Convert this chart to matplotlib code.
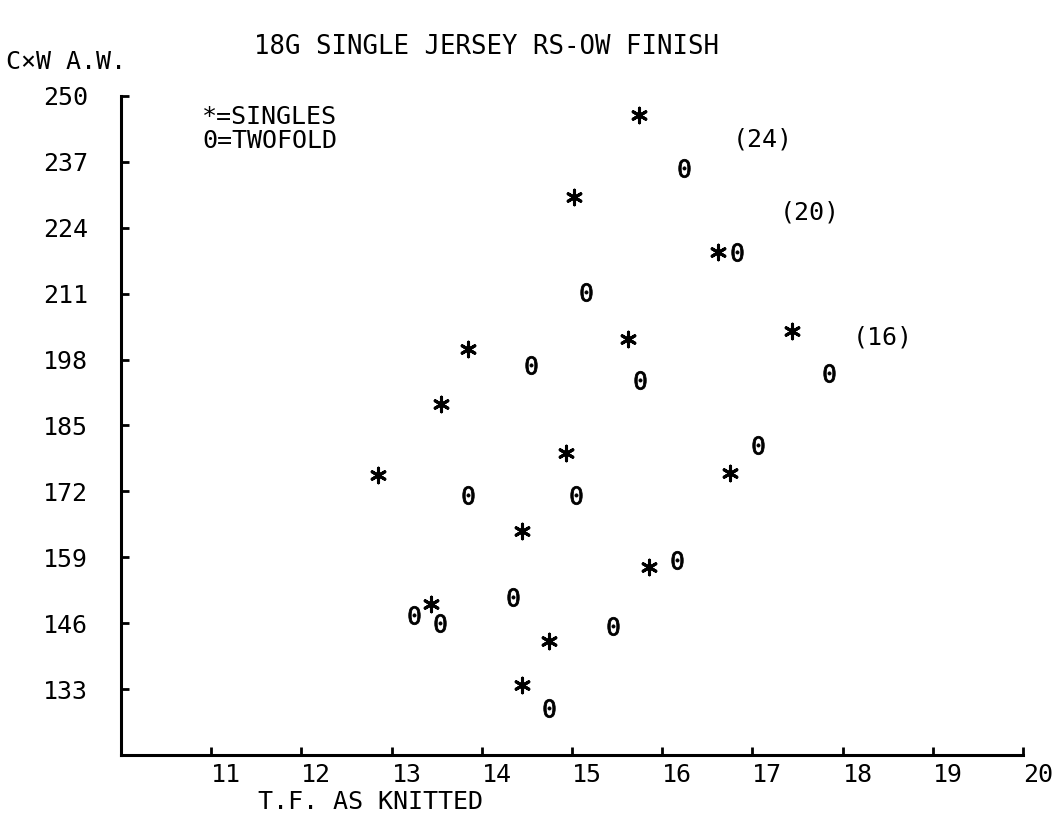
import matplotlib
matplotlib.use("Agg")
import matplotlib.pyplot as plt

# values (T.F. as knitted vs CxW A.W.)
singles_tf = [15.74, 15.02, 16.62, 15.62, 17.44, 13.85, 13.55, 12.85,
              14.93, 16.75, 14.45, 15.85, 13.44, 14.75, 14.44]
singles_aw = [246.2, 230.0, 219.3, 202.0, 203.7, 200.0, 189.3, 175.3,
              179.6, 175.7, 164.2, 157.1, 149.8, 142.5, 133.8]

twofold_tf = [16.24, 16.83, 15.15, 14.54, 15.75, 17.85, 17.06, 13.85,
              15.04, 16.16, 14.35, 13.25, 13.54, 15.45, 14.75]
twofold_aw = [235.7, 219.3, 211.4, 197.0, 193.9, 195.4, 181.2, 171.3,
              171.3, 158.5, 151.2, 147.6, 146.0, 145.4, 129.2]

group_labels = ["(24)", "(20)", "(16)"]
group_tf = [17.11, 17.64, 18.45]
group_aw = [241.5, 227.0, 202.3]

x_ticks = list(range(11, 21))
y_ticks = list(range(133, 251, 13))

mono = "DejaVu Sans Mono"
fs = 18

fig = plt.figure(figsize=(10.59, 8.23), dpi=100)
ax = fig.add_axes([0.1143, 0.0826, 0.8517, 0.8008])

# six-armed asterisk for singles, zero glyph for twofold
ax.scatter(singles_tf, singles_aw, marker=(6, 2, 0), s=110, color="black", linewidths=2.2)
ax.scatter(twofold_tf, twofold_aw, marker=r"$\mathtt{0}$", s=175, color="black", linewidths=0.6,
           edgecolors="black")

for lab, xv, yv in zip(group_labels, group_tf, group_aw):
    ax.text(xv, yv, lab, ha="center", va="center", fontsize=fs, family=mono)

ax.set_xlim(10, 20)
ax.set_ylim(120, 250)
ax.set_xticks(x_ticks)
ax.set_yticks(y_ticks)
ax.set_xticklabels([str(v) for v in x_ticks], family=mono, fontsize=fs, ha="left")
ax.set_yticklabels([str(v) for v in y_ticks], family=mono, fontsize=fs)
ax.tick_params(axis="x", direction="in", length=6, width=2, pad=6)
ax.tick_params(axis="y", direction="in", length=6, width=2, pad=24)

for side in ["top", "right"]:
    ax.spines[side].set_visible(False)
for side in ["left", "bottom"]:
    ax.spines[side].set_linewidth(2.2)

fig.text(0.459, 0.943, "18G SINGLE JERSEY RS-OW FINISH", ha="center", va="center",
         fontsize=18.5, family=mono)
fig.text(0.006, 0.925, "C×W A.W.", ha="left", va="center", fontsize=fs, family=mono)
fig.text(0.191, 0.858, "*=SINGLES", ha="left", va="center", fontsize=fs, family=mono)
fig.text(0.191, 0.829, "0=TWOFOLD", ha="left", va="center", fontsize=fs, family=mono)
fig.text(0.244, 0.025, "T.F. AS KNITTED", ha="left", va="center", fontsize=fs, family=mono)

fig.savefig("out.png", dpi=100)
